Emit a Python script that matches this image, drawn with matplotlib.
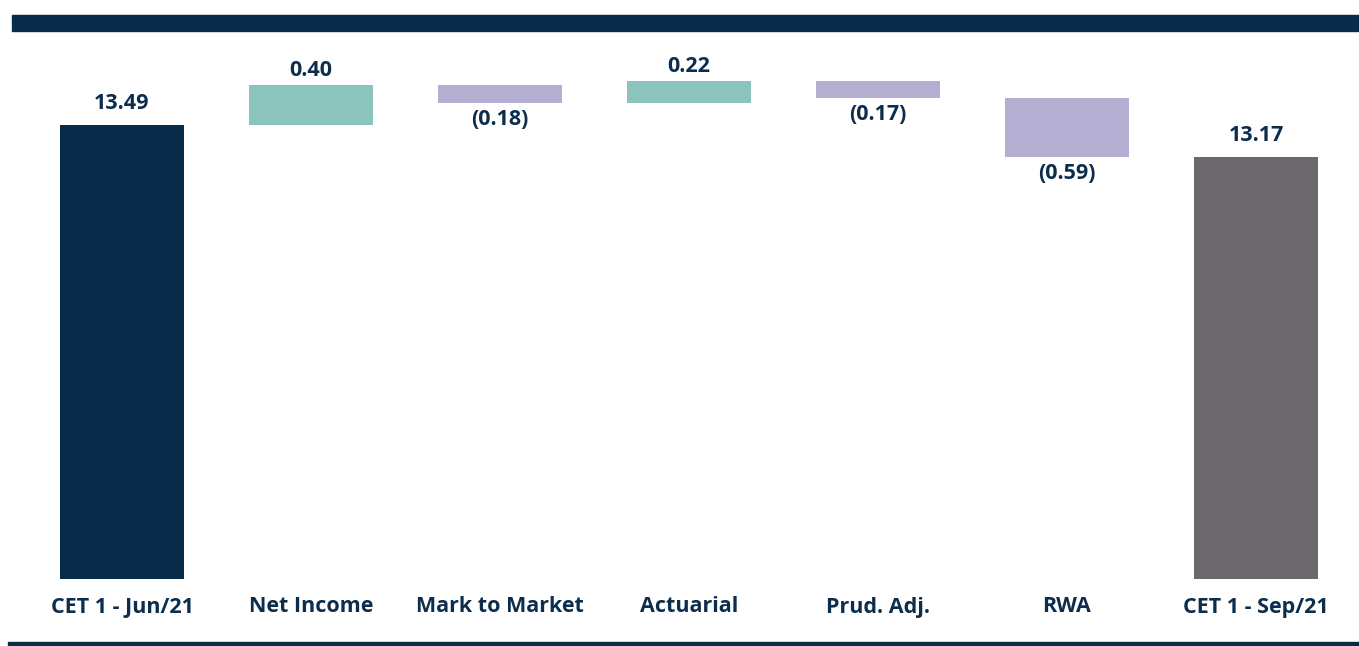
import matplotlib.pyplot as plt
from matplotlib.patches import Rectangle

# CET1 ratio bridge, Jun/21 -> Sep/21 (%)
categories = ['CET 1 - Jun/21', 'Net Income', 'Mark to Market', 'Actuarial',
              'Prud. Adj.', 'RWA', 'CET 1 - Sep/21']
start_value = 13.49
changes = [0.40, -0.18, 0.22, -0.17, -0.59]
end_value = 13.17

navy = '#072b49'
teal = '#8bc4bc'
lavender = '#b4aed2'
grey = '#6a686d'
txt = '#0d2d4d'
floor = 8.95

plt.rcParams['font.family'] = ['Open Sans', 'DejaVu Sans']

fig = plt.figure(figsize=(13.59, 6.46), dpi=100)
ax = fig.add_axes([27.5/1359, (646-579)/646, 1323/1359, 544/646])
ax.set_xlim(-0.5, 6.5)
ax.set_ylim(floor, floor + 5.44)
ax.axis('off')

w = 0.66
num_kw = dict(ha='center', fontsize=15.5, fontweight='bold', color=txt)

# opening bar
ax.bar(0, start_value - floor, bottom=floor, width=w, color=navy)
ax.text(0, start_value + 0.11, f'{start_value:.2f}', va='bottom', **num_kw)

level = start_value
for i, d in enumerate(changes, start=1):
    col = teal if d > 0 else lavender
    ax.bar(i, d, bottom=level, width=w, color=col)
    if d > 0:
        ax.text(i, level + d + 0.04, f'{d:.2f}', va='bottom', **num_kw)
    else:
        ax.text(i, level + d - 0.06, f'({abs(d):.2f})', va='top', **num_kw)
    level += d

# closing bar
ax.bar(6, end_value - floor, bottom=floor, width=w, color=grey)
ax.text(6, end_value + 0.11, f'{end_value:.2f}', va='bottom', **num_kw)

for i, c in enumerate(categories):
    ax.text(i, floor - 0.28, c, ha='center', va='center',
            fontsize=15.5, fontweight='bold', color=txt)

# header band and footer rule
fig.patches.append(Rectangle((12/1359, 1 - 31/646), 1 - 12/1359, 16/646,
                             transform=fig.transFigure, color=navy))
fig.patches.append(Rectangle((8/1359, 0), 1 - 8/1359, 4/646,
                             transform=fig.transFigure, color=navy))

fig.savefig('out.png', dpi=100)
